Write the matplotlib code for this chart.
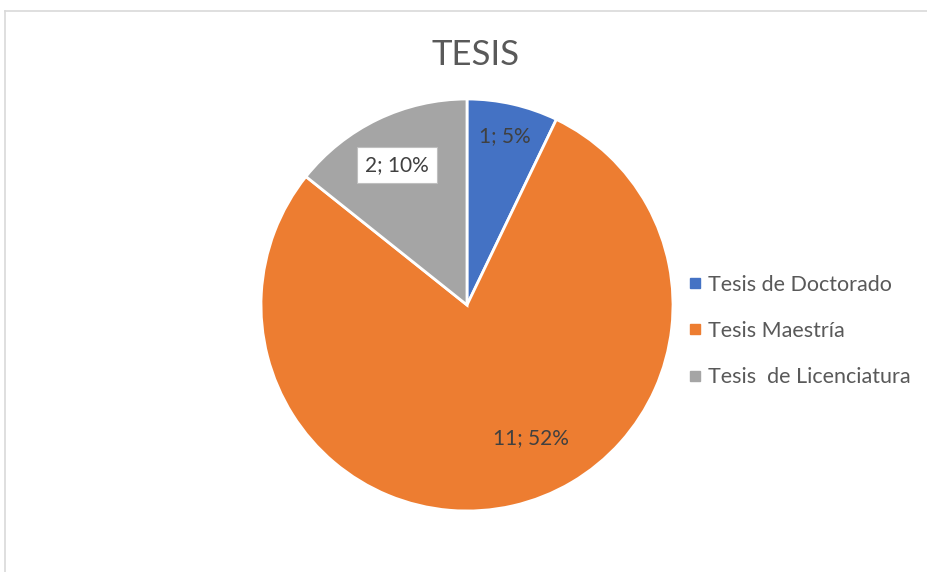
import matplotlib
matplotlib.use("Agg")
import matplotlib.pyplot as plt
from matplotlib.lines import Line2D

categories = ["Tesis de Doctorado", "Tesis Maestría", "Tesis  de Licenciatura"]
values = [1, 11, 2]
label_texts = ["1; 5%", "11; 52%", "2; 10%"]
colors = ["#4472C4", "#ED7D31", "#A5A5A5"]

W, H = 927, 572
fig = plt.figure(figsize=(W / 100, H / 100), dpi=100)
plt.rcParams['font.family'] = ['Lato', 'DejaVu Sans']

# frame lines (top and left visible)
fig.add_artist(Line2D([5 / W, 1], [1 - 11 / H, 1 - 11 / H], transform=fig.transFigure, color="#D9D9D9", lw=1.2))
fig.add_artist(Line2D([5 / W, 5 / W], [0, 1 - 11 / H], transform=fig.transFigure, color="#D9D9D9", lw=1.2))

cx, cy, r = 467, 305, 206
ax = fig.add_axes([(cx - r) / W, (H - cy - r) / H, 2 * r / W, 2 * r / H])
wedges, _ = ax.pie(values, colors=colors, startangle=90, counterclock=False,
                   radius=1, wedgeprops=dict(edgecolor="white", linewidth=2))
ax.set_xlim(-1.0, 1.0)
ax.set_ylim(-1.0, 1.0)
ax.set_aspect("equal")
ax.axis("off")

pos = [(0.185, 0.82), (0.312, -0.644), (-0.341, 0.678)]
for i, (t, (x, y)) in enumerate(zip(label_texts, pos)):
    kw = {}
    if i == 2:
        kw["bbox"] = dict(boxstyle="square,pad=0.38", facecolor="white", edgecolor="#BFBFBF", linewidth=0.8)
    ax.text(x, y, t, ha="center", va="center", fontsize=15, color="#404040", **kw)

fig.text(476 / W, 1 - 55 / H, "TESIS", ha="center", va="center", fontsize=25,
         color="#595959")

handles = [Line2D([], [], marker="s", linestyle="none", markersize=7,
                  markerfacecolor=c, markeredgecolor=c) for c in colors]
fig.legend(handles, categories, loc="center left", bbox_to_anchor=(678 / W, 1 - 331 / H),
           frameon=False, fontsize=15.5, labelcolor="#595959", handlelength=0.6,
           handletextpad=0.3, labelspacing=1.22, borderpad=0)

fig.savefig("out.png", dpi=100)
